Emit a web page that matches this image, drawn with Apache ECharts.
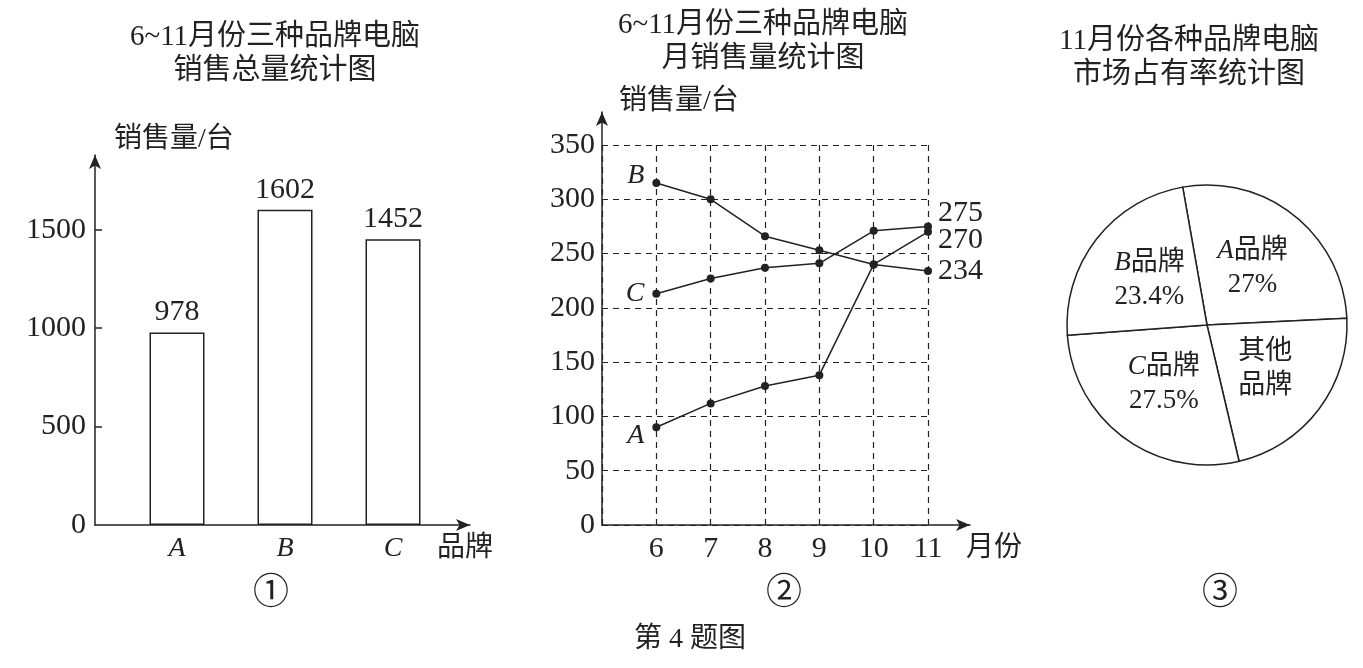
<!DOCTYPE html>
<html>
<head>
<meta charset="utf-8">
<script src="https://cdn.jsdelivr.net/npm/echarts@6/dist/echarts.min.js"></script>
<style>html,body{margin:0;padding:0;background:#fff;}#c{width:1363px;height:668px;}</style>
</head>
<body>
<div id="c"></div>
<script>
// ---- data ----
const brands = ['A', 'B', 'C'];
const brandTotals = [978, 1602, 1452];
const barTicks = [0, 500, 1000, 1500];

const months = [6, 7, 8, 9, 10, 11];
const salesA = [90, 112, 128, 138, 240, 270];
const salesB = [315, 300, 266, 253, 240, 234];
const salesC = [213, 227, 237, 241, 271, 275];

const pieNames = ['A', '其他', 'C', 'B'];
const pieValues = [27, 22.1, 27.5, 23.4];

// ---- styling ----
const FONT = "'Liberation Serif', 'Noto Sans CJK SC', serif";
const INK = '#222';
const FS = 30;
const CJK = 28;

const chart = echarts.init(document.getElementById('c'), null, {renderer: 'canvas'});

function lineData(vals, name, leftOffset, rightOffset) {
  return months.map((m, i) => {
    const d = {value: [m, vals[i]]};
    if (i === 0) {
      d.label = {show: true, position: 'left', distance: 8, offset: leftOffset,
        formatter: name, fontStyle: 'italic', fontSize: 28, fontFamily: FONT, color: INK};
    } else if (i === vals.length - 1) {
      d.label = {show: true, position: 'right', distance: 6, offset: rightOffset,
        formatter: String(vals[i]), fontSize: FS, fontFamily: FONT, color: INK};
    }
    return d;
  });
}

const arrowLine = {show: true, symbol: ['none', 'arrow'], symbolSize: [9, 14], lineStyle: {color: INK, width: 1.5}};
const dashed = {show: true, lineStyle: {color: INK, width: 1.2, type: [6, 5]}};
const titleStyle = {fontSize: 29, fontWeight: 'normal', fontFamily: FONT, color: INK, lineHeight: 34};

const option = {
  backgroundColor: '#fff',
  animation: false,
  title: [
    {text: '6~11月份三种品牌电脑\n销售总量统计图', left: 270, top: 15, textAlign: 'center', textStyle: titleStyle},
    {text: '6~11月份三种品牌电脑\n月销售量统计图', left: 758, top: 3, textAlign: 'center', textStyle: titleStyle},
    {text: '11月份各种品牌电脑\n市场占有率统计图', left: 1184, top: 19, textAlign: 'center', textStyle: titleStyle}
  ],
  grid: [
    {left: 95, top: 155, width: 375, bottom: 143},   // 0: chart1 axes
    {left: 123, top: 155, width: 324, bottom: 143},  // 1: chart1 bars
    {left: 602, top: 112, width: 368, bottom: 143},  // 2: chart2 axes
    {left: 602, top: 145, width: 326, bottom: 143}   // 3: chart2 data
  ],
  xAxis: [
    {gridIndex: 0, type: 'value', min: 0, max: 1, axisLine: arrowLine,
      axisTick: {show: false}, axisLabel: {show: false}, splitLine: {show: false}},
    {gridIndex: 1, type: 'category', data: brands, axisLine: {show: false}, axisTick: {show: false},
      axisLabel: {fontSize: 28, fontStyle: 'italic', fontFamily: FONT, color: INK, margin: 10}},
    {gridIndex: 2, type: 'value', min: 0, max: 1, axisLine: arrowLine,
      axisTick: {show: false}, axisLabel: {show: false}, splitLine: {show: false}},
    {gridIndex: 3, type: 'value', min: 5, max: 11, interval: 1, axisLine: {show: false},
      axisTick: {show: false}, splitLine: dashed,
      axisLabel: {fontSize: FS, fontFamily: FONT, color: INK, margin: 9,
        formatter: v => (months.indexOf(v) >= 0 ? String(v) : '')}}
  ],
  yAxis: [
    {gridIndex: 0, type: 'value', min: 0, max: 1880, interval: 500, axisLine: arrowLine,
      axisTick: {show: true, inside: true, length: 7, lineStyle: {color: INK, width: 1.5},
        customValues: barTicks.slice(1)},
      axisLabel: {fontSize: FS, fontFamily: FONT, color: INK, margin: 9, customValues: barTicks,
        formatter: v => (barTicks.indexOf(v) >= 0 ? String(v) : '')},
      splitLine: {show: false}},
    {gridIndex: 1, type: 'value', min: 0, max: 1880, show: false, splitLine: {show: false}},
    {gridIndex: 2, type: 'value', min: 0, max: 1, axisLine: arrowLine,
      axisTick: {show: false}, axisLabel: {show: false}, splitLine: {show: false}},
    {gridIndex: 3, type: 'value', min: 0, max: 350, interval: 50, axisLine: {show: false},
      axisTick: {show: false}, splitLine: dashed,
      axisLabel: {fontSize: FS, fontFamily: FONT, color: INK, margin: 7}}
  ],
  series: [
    {type: 'bar', xAxisIndex: 1, yAxisIndex: 1, data: brandTotals, barWidth: 55,
      itemStyle: {color: '#fff', borderColor: INK, borderWidth: 1.5},
      label: {show: true, position: 'top', distance: 5, fontSize: FS, fontFamily: FONT, color: INK}},
    {type: 'line', name: 'B', xAxisIndex: 3, yAxisIndex: 3, data: lineData(salesB, 'B', [0, -7], [0, 0]),
      symbol: 'circle', symbolSize: 8, itemStyle: {color: INK}, lineStyle: {color: INK, width: 1.5}, z: 5},
    {type: 'line', name: 'C', xAxisIndex: 3, yAxisIndex: 3, data: lineData(salesC, 'C', [0, 0], [0, -13]),
      symbol: 'circle', symbolSize: 8, itemStyle: {color: INK}, lineStyle: {color: INK, width: 1.5}, z: 5},
    {type: 'line', name: 'A', xAxisIndex: 3, yAxisIndex: 3, data: lineData(salesA, 'A', [0, 8], [0, 8]),
      symbol: 'circle', symbolSize: 8, itemStyle: {color: INK}, lineStyle: {color: INK, width: 1.5}, z: 5},
    {type: 'pie', center: [1207, 325], radius: 140, startAngle: 100, clockwise: true,
      data: pieNames.map((n, i) => ({name: n, value: pieValues[i]})),
      itemStyle: {color: '#fff', borderColor: INK, borderWidth: 1.5},
      label: {position: 'inside', color: INK, fontSize: 27, fontFamily: FONT, lineHeight: 34,
        formatter: p => (p.name === '其他' ? '其他\n品牌' : '{i|' + p.name + '}品牌\n' + p.value + '%'),
        rich: {i: {fontStyle: 'italic', fontSize: 27, fontFamily: FONT, color: INK}}},
      labelLine: {show: false}, emphasis: {disabled: true}}
  ],
  graphic: [
    {type: 'text', style: {text: '销售量/台', x: 114, y: 140, textAlign: 'left', textVerticalAlign: 'middle',
      font: CJK + 'px ' + FONT, fill: INK}},
    {type: 'text', style: {text: '品牌', x: 437, y: 549, textAlign: 'left', textVerticalAlign: 'middle',
      font: CJK + 'px ' + FONT, fill: INK}},
    {type: 'text', style: {text: '销售量/台', x: 619, y: 102, textAlign: 'left', textVerticalAlign: 'middle',
      font: CJK + 'px ' + FONT, fill: INK}},
    {type: 'text', style: {text: '月份', x: 966, y: 549, textAlign: 'left', textVerticalAlign: 'middle',
      font: CJK + 'px ' + FONT, fill: INK}},
    {type: 'text', style: {text: '①', x: 271, y: 595, textAlign: 'center', textVerticalAlign: 'middle',
      font: '36px ' + FONT, fill: INK}},
    {type: 'text', style: {text: '②', x: 784, y: 595, textAlign: 'center', textVerticalAlign: 'middle',
      font: '36px ' + FONT, fill: INK}},
    {type: 'text', style: {text: '③', x: 1220, y: 595, textAlign: 'center', textVerticalAlign: 'middle',
      font: '36px ' + FONT, fill: INK}},
    {type: 'text', style: {text: '第 4 题图', x: 690, y: 640, textAlign: 'center', textVerticalAlign: 'middle',
      font: '28px ' + FONT, fill: INK}}
  ]
};
chart.setOption(option);
</script>
</body>
</html>
